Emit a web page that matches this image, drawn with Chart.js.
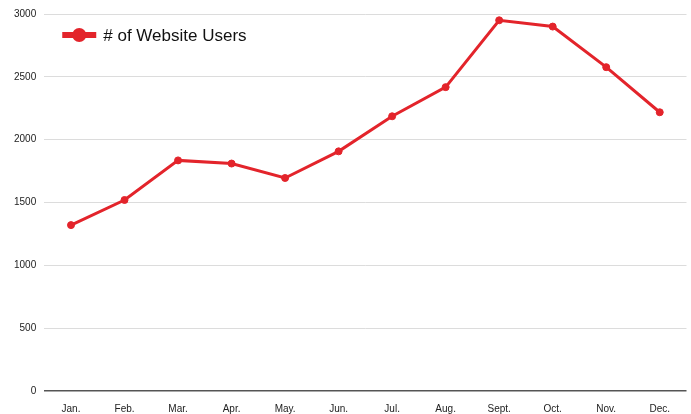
<!DOCTYPE html>
<html>
<head>
<meta charset="utf-8">
<script src="https://cdn.jsdelivr.net/npm/chart.js@4"></script>
<style>
    html, body { margin: 0; padding: 0; background: #fff; }
    #wrap { width: 691px; height: 414px; }
</style>
</head>
<body>
<div id="wrap"><canvas id="chart"></canvas></div>
<script>
const months = ['Jan.', 'Feb.', 'Mar.', 'Apr.', 'May.', 'Jun.', 'Jul.', 'Aug.', 'Sept.', 'Oct.', 'Nov.', 'Dec.'];
const users = [1320, 1520, 1835, 1810, 1695, 1907, 2186, 2418, 2950, 2900, 2577, 2218];
const seriesLabel = '# of Website Users';

const RED = '#e3242b';

// legend sits inside the plot area, top-left
const insideLegend = {
    id: 'insideLegend',
    afterDraw(chart) {
        const ctx = chart.ctx;
        const ds = chart.data.datasets[0];
        const x = chart.chartArea.left + 18, y = 35;
        ctx.save();
        ctx.strokeStyle = ds.borderColor;
        ctx.lineWidth = 6;
        ctx.beginPath();
        ctx.moveTo(x, y);
        ctx.lineTo(x + 34, y);
        ctx.stroke();
        ctx.fillStyle = ds.borderColor;
        ctx.beginPath();
        ctx.arc(x + 17, y, 7, 0, Math.PI * 2);
        ctx.fill();
        ctx.fillStyle = '#111';
        ctx.font = '17px "Liberation Sans", Arial, sans-serif';
        ctx.textBaseline = 'middle';
        ctx.fillText(ds.label, x + 41, y + 1);
        ctx.restore();
    }
};

new Chart(document.getElementById('chart'), {
    type: 'line',
    data: {
        labels: months,
        datasets: [{
            label: seriesLabel,
            data: users,
            borderColor: RED,
            backgroundColor: RED,
            borderWidth: 3,
            pointRadius: 3.5,
            pointBorderWidth: 1,
            pointHoverRadius: 3.5,
            tension: 0
        }]
    },
    options: {
        responsive: true,
        maintainAspectRatio: false,
        animation: false,
        layout: { padding: { top: 11, right: -2, left: 6, bottom: -5 } },
        plugins: {
            legend: { display: false },
            tooltip: { enabled: false }
        },
        scales: {
            x: {
                offset: true,
                grid: { display: false },
                border: { display: false },
                ticks: {
                    color: '#222',
                    font: { family: '"Liberation Sans", Arial, sans-serif', size: 10 },
                    padding: 4,
                    maxRotation: 0
                }
            },
            y: {
                min: 0,
                max: 3000,
                border: { display: false },
                grid: {
                    color: c => c.tick && c.tick.value === 0 ? '#555' : '#dcdcdc',
                    lineWidth: c => c.tick && c.tick.value === 0 ? 1.5 : 1,
                    drawTicks: false
                },
                ticks: {
                    stepSize: 500,
                    color: '#222',
                    font: { family: '"Liberation Sans", Arial, sans-serif', size: 10 },
                    padding: 8,
                    callback: v => String(v)
                }
            }
        }
    },
    plugins: [insideLegend]
});
</script>
</body>
</html>
